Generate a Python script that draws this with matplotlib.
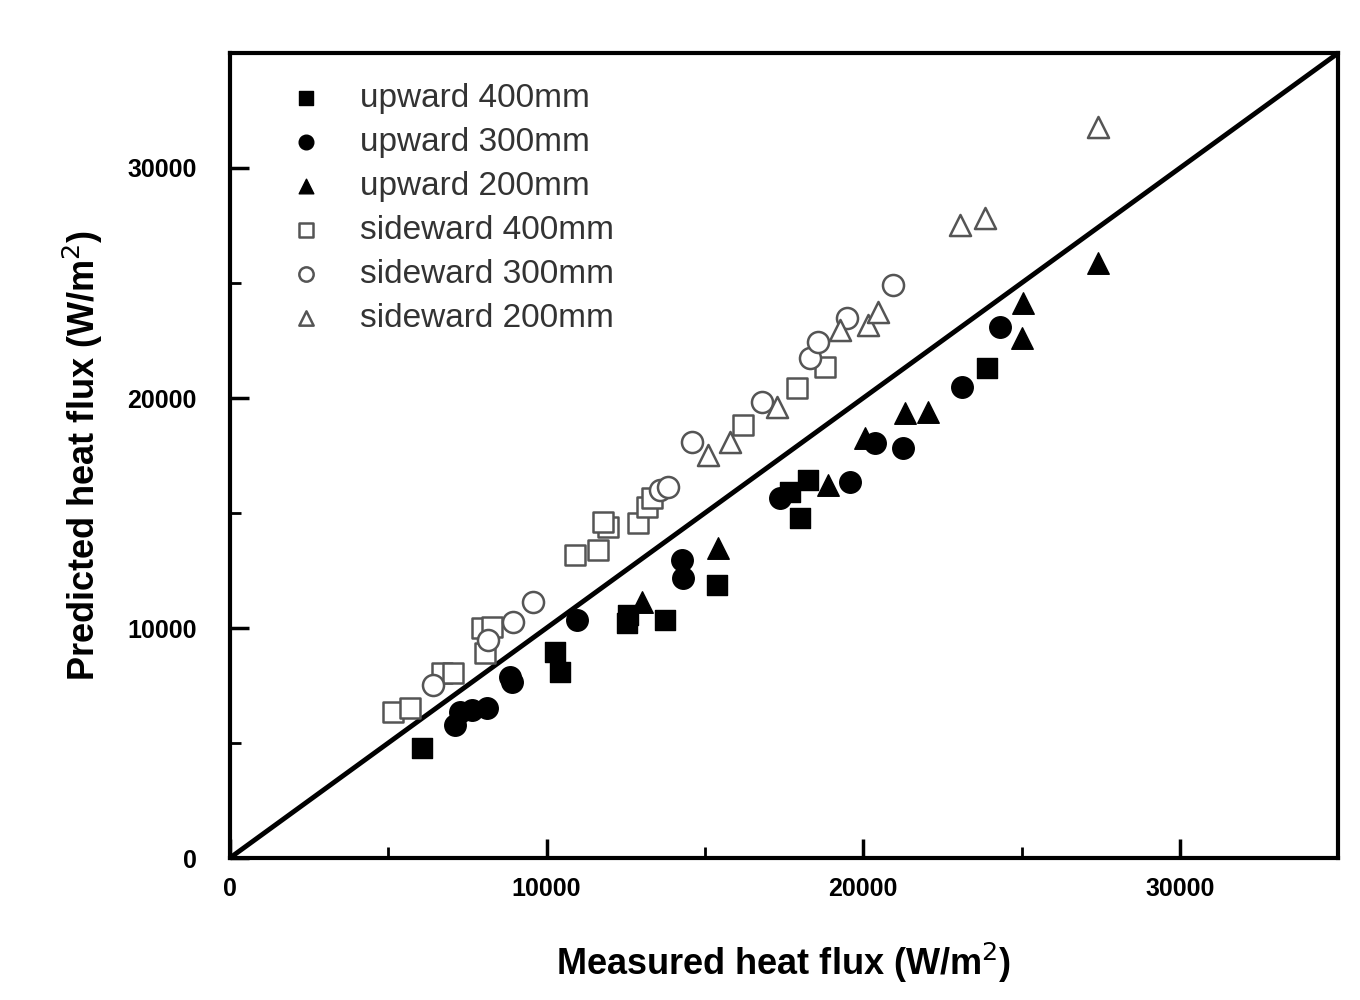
import numpy as np
import matplotlib.pyplot as plt
from matplotlib.ticker import MultipleLocator

# upward (filled markers)
up400_x = [6066, 10269, 10427, 12575, 12544, 13744, 15387, 17694, 18262, 18010, 23918]
up400_y = [4783, 8957, 8087, 10565, 10217, 10348, 11870, 15913, 16435, 14783, 21304]

up300_x = [7109, 7267, 7646, 8120, 8910, 8847, 10964, 14281, 14313, 17378, 19590, 20380, 21264, 23128, 24329]
up300_y = [5783, 6348, 6435, 6522, 7652, 7870, 10348, 12957, 12174, 15652, 16348, 18043, 17826, 20478, 23087]

up200_x = [13018, 15419, 18894, 20063, 21327, 22054, 25024, 25056, 27425]
up200_y = [11130, 13478, 16217, 18261, 19348, 19391, 22609, 24130, 25870]

# sideward (open markers)
side400_x = [5150, 5687, 6698, 7046, 8057, 7962, 8278, 10901, 11627, 11943, 11785, 12891, 13176, 13334, 16209, 17915, 18799]
side400_y = [6348, 6522, 8043, 8043, 8913, 10000, 10043, 13174, 13391, 14391, 14609, 14565, 15261, 15652, 18826, 20435, 21348]

side300_x = [6414, 8152, 8942, 9574, 13586, 13839, 14597, 16809, 18326, 18578, 19495, 20948]
side300_y = [7522, 9478, 10261, 11130, 16000, 16130, 18087, 19826, 21739, 22435, 23478, 24913]

side200_x = [15103, 15798, 17283, 19274, 20159, 20475, 23065, 23855, 27425]
side200_y = [17522, 18087, 19609, 22957, 23174, 23739, 27522, 27826, 31783]

plt.rcParams['font.family'] = ['Liberation Sans', 'DejaVu Sans']

fig = plt.figure(figsize=(13.6, 10), dpi=100)
ax = fig.add_axes([0.169, 0.142, 0.815, 0.805])

ax.plot([0, 35000], [0, 35000], color='black', linewidth=3.5, zorder=1)

ax.scatter(up400_x, up400_y, marker='s', s=210, c='black', label='upward 400mm', zorder=3)
ax.scatter(up300_x, up300_y, marker='o', s=240, c='black', label='upward 300mm', zorder=3)
ax.scatter(up200_x, up200_y, marker='^', s=240, c='black', label='upward 200mm', zorder=3)
ax.scatter(side400_x, side400_y, marker='s', s=200, facecolors='white', edgecolors='#555555',
           linewidths=1.8, label='sideward 400mm', zorder=2)
ax.scatter(side300_x, side300_y, marker='o', s=230, facecolors='white', edgecolors='#555555',
           linewidths=1.8, label='sideward 300mm', zorder=2)
ax.scatter(side200_x, side200_y, marker='^', s=230, facecolors='white', edgecolors='#555555',
           linewidths=1.8, label='sideward 200mm', zorder=2)

ax.set_xlim(0, 35000)
ax.set_ylim(0, 35000)
ax.xaxis.set_major_locator(MultipleLocator(10000))
ax.yaxis.set_major_locator(MultipleLocator(10000))
ax.xaxis.set_minor_locator(MultipleLocator(5000))
ax.yaxis.set_minor_locator(MultipleLocator(5000))
ax.tick_params(which='major', direction='in', length=14, width=2.5, labelsize=18)
ax.tick_params(axis='x', which='major', pad=14)
ax.tick_params(axis='y', which='major', pad=24)
ax.tick_params(which='minor', direction='in', length=8, width=2)
for lab in ax.get_xticklabels() + ax.get_yticklabels():
    lab.set_fontweight('bold')
for sp in ax.spines.values():
    sp.set_linewidth(3)

ax.set_xlabel('Measured heat flux (W/m$^2$)', fontsize=26, fontweight='bold', labelpad=28)
ax.set_ylabel('Predicted heat flux (W/m$^2$)', fontsize=26, fontweight='bold', labelpad=16)

leg = ax.legend(loc='upper left', bbox_to_anchor=(0.012, 1.0), frameon=False, fontsize=24,
                markerscale=0.68, handlelength=2.0, handletextpad=0.6, labelspacing=0.39,
                scatterpoints=1)
for t in leg.get_texts():
    t.set_color('#333333')

fig.savefig('out.png', dpi=100)
